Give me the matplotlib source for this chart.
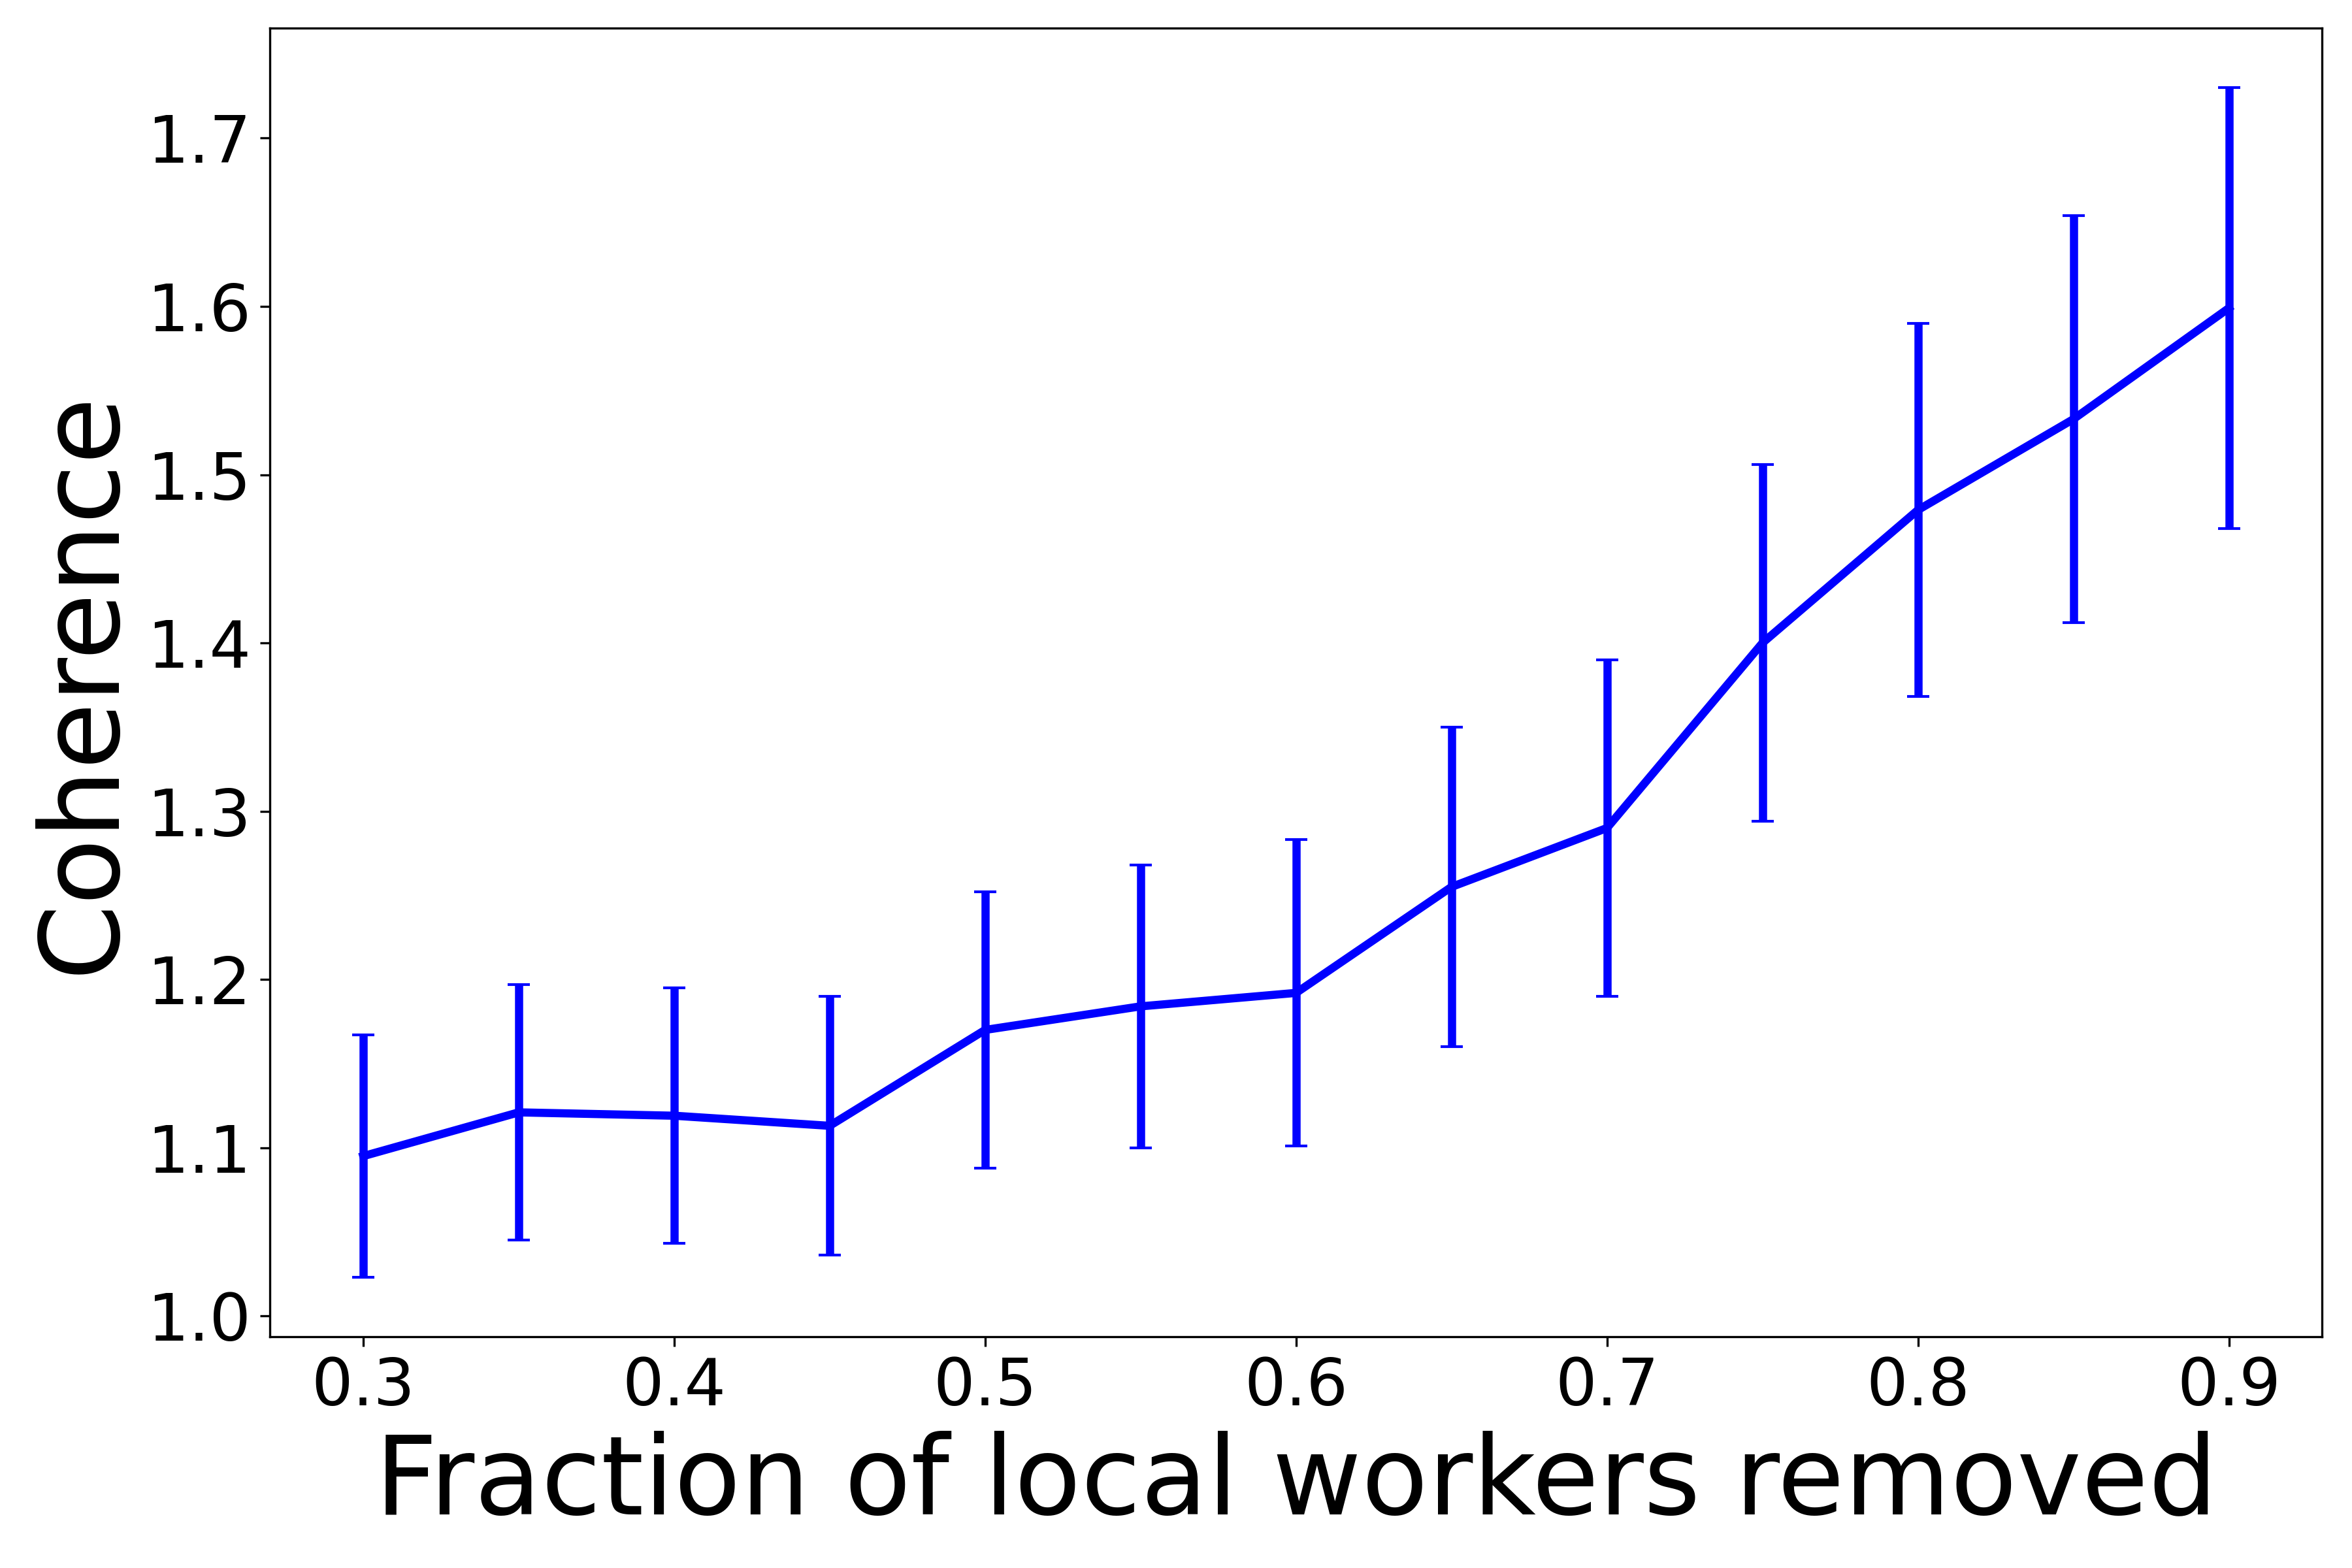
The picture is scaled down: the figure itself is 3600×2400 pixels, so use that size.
import matplotlib
matplotlib.use("Agg")
import matplotlib.pyplot as plt

fractions = [0.30, 0.35, 0.40, 0.45, 0.50, 0.55, 0.60, 0.65, 0.70, 0.75, 0.80, 0.85, 0.90]
coherence = [1.095, 1.121, 1.119, 1.113, 1.170, 1.184, 1.192, 1.255, 1.290, 1.400, 1.479, 1.533, 1.599]
errors = [0.072, 0.076, 0.076, 0.077, 0.082, 0.084, 0.091, 0.095, 0.100, 0.106, 0.111, 0.121, 0.131]

fig = plt.figure(figsize=(12, 8), dpi=300)
ax = fig.add_axes([0.1148, 0.1475, 0.8725, 0.8345])
ax.errorbar(fractions, coherence, yerr=errors, color='blue', linewidth=3,
            elinewidth=3, capsize=4, capthick=1)
ax.set_xlabel('Fraction of local workers removed', fontsize=40)
ax.set_ylabel('Coherence', fontsize=40)
ax.tick_params(axis='both', labelsize=24)
ax.set_xticks([0.3, 0.4, 0.5, 0.6, 0.7, 0.8, 0.9])
ax.set_yticks([1.0, 1.1, 1.2, 1.3, 1.4, 1.5, 1.6, 1.7])
fig.savefig('out.png', dpi=300)
